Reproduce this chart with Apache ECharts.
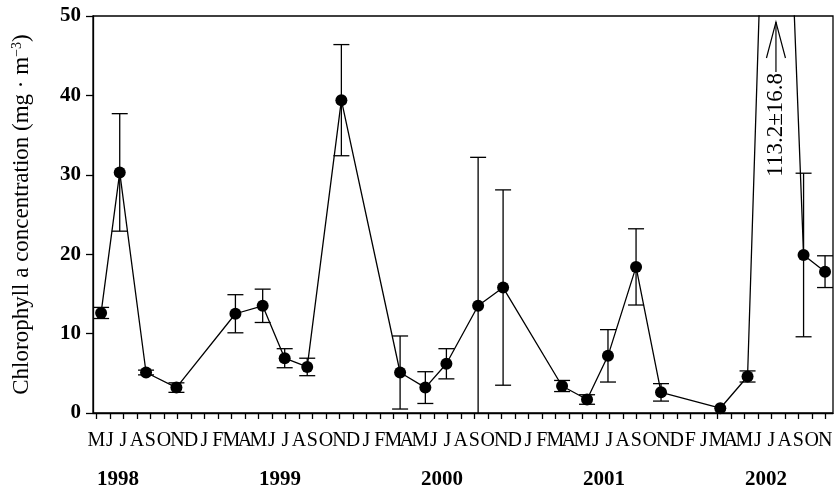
<!DOCTYPE html>
<html>
<head>
<meta charset="utf-8">
<script src="https://cdn.jsdelivr.net/npm/echarts@6/dist/echarts.min.js"></script>
<style>
  html, body { margin: 0; padding: 0; background: #fff; }
  #chart { width: 835px; height: 485px; }
</style>
</head>
<body>
<div id="chart"></div>
<script>
// Sampling time of each survey, in months counted from 1 May 1998
const sampleMonth = [0.35, 1.73, 3.68, 5.93, 10.30, 12.32, 13.95, 15.62, 18.15, 22.50, 24.37, 25.93,
                     28.28, 30.13, 34.50, 36.35, 37.90, 39.98, 41.83, 46.22, 48.24, 50.27, 52.39, 53.98];
// Mean chlorophyll a (mg·m⁻³) and its standard deviation
const chlMean = [12.6, 30.3, 5.1, 3.2, 12.5, 13.5, 6.9, 5.8, 39.4, 5.1, 3.2, 6.2,
                 13.5, 15.8, 3.4, 1.7, 7.2, 18.4, 2.6, 0.6, 4.6, 113.2, 19.9, 17.8];
const chlSD   = [0.7, 7.4, 0.3, 0.6, 2.4, 2.1, 1.2, 1.1, 7.0, 4.6, 2.0, 1.9,
                 18.7, 12.3, 0.7, 0.6, 3.3, 4.8, 1.1, 0, 0.7, 16.8, 10.3, 2.0];

// Month initials under each monthly tick (May 1998 – Nov 2002)
const monthLetters = [
  'M','J','J','A','S','O','N','D',
  'J','F','M','A','M','J','J','A','S','O','N','D',
  'J','F','M','A','M','J','J','A','S','O','N','D',
  'J','F','M','A','M','J','J','A','S','O','N','D',
  'F','J','M','A','M','J','J','A','S','O','N'
];
const monthTicks = monthLetters.map((_, i) => i);
const yearLabels = ['1998', '1999', '2000', '2001', '2002'];
const yearMonth = [1.6, 13.6, 25.6, 37.6, 49.6];
const yTicks = [0, 10, 20, 30, 40, 50];

const SERIF = '"Liberation Serif", "Times New Roman", serif';
const INK = '#000';
const X_MIN = -0.25, X_MAX = 54.57;

// index of the off-scale peak, annotated with its value
const peakIdx = chlMean.indexOf(Math.max(...chlMean));

// Month initials are split over two label-only axes (even / odd months),
// so that ECharts' end-label overlap check never drops a neighbour.
function monthLabelAxis(parity, withLine) {
  return {
    type: 'value', min: X_MIN, max: X_MAX, position: 'bottom', offset: 0,
    axisLine: { show: withLine, onZero: false, lineStyle: { color: INK, width: 1.3 } },
    splitLine: { show: false },
    axisTick: { show: withLine, inside: false, length: 6, customValues: monthTicks,
                lineStyle: { color: INK, width: 1.3 } },
    axisLabel: {
      customValues: monthTicks.filter(v => v % 2 === parity),
      margin: 18, showMinLabel: true, showMaxLabel: true, hideOverlap: false,
      formatter: v => monthLetters[Math.round(v)],
      fontFamily: SERIF, fontSize: 20, color: INK
    }
  };
}

const chart = echarts.init(document.getElementById('chart'), null, { renderer: 'canvas' });

chart.setOption({
  animation: false,
  backgroundColor: '#fff',
  grid: {
    left: 93, right: 2, top: 16, bottom: 72,
    containLabel: false, outerBoundsMode: 'none',
    show: true, borderColor: INK, borderWidth: 1.3, backgroundColor: 'transparent'
  },
  xAxis: [
    monthLabelAxis(0, true),
    monthLabelAxis(1, false),
    {
      type: 'value', min: X_MIN, max: X_MAX, position: 'bottom', offset: 0,
      axisLine: { show: false, onZero: false }, axisTick: { show: false }, splitLine: { show: false },
      axisLabel: {
        customValues: yearMonth, margin: 56,
        formatter: v => yearLabels[yearMonth.indexOf(v)],
        fontFamily: SERIF, fontSize: 21, fontWeight: 'bold', color: INK
      }
    }
  ],
  yAxis: {
    type: 'value', min: 0, max: 50, interval: 10,
    axisLine: { show: true, onZero: false, lineStyle: { color: INK, width: 1.3 } },
    splitLine: { show: false },
    axisTick: { show: true, inside: false, length: 7, customValues: yTicks,
                lineStyle: { color: INK, width: 1.3 } },
    axisLabel: { customValues: yTicks, margin: 12, fontFamily: SERIF, fontSize: 21,
                 fontWeight: 'bold', color: INK },
    name: 'Chlorophyll a concentration (mg · m{sup|−3})',
    nameLocation: 'middle', nameRotate: 90, nameGap: 60,
    nameTextStyle: {
      fontFamily: SERIF, fontSize: 23, color: INK,
      rich: { sup: { fontFamily: SERIF, fontSize: 14, color: INK, verticalAlign: 'top', padding: [0, 0, 9, 0] } }
    }
  },
  series: [
    {
      // standard-deviation bars
      type: 'custom',
      clip: true,
      z: 2,
      data: sampleMonth.map((m, i) => [m, chlMean[i] - chlSD[i], chlMean[i] + chlSD[i]]),
      renderItem(params, api) {
        const x = api.value(0), lo = api.value(1), hi = api.value(2);
        if (hi - lo <= 0) return { type: 'group', children: [] };
        const a = api.coord([x, lo]);
        const b = api.coord([x, hi]);
        const w = 8;
        const st = { stroke: INK, lineWidth: 1.3 };
        return {
          type: 'group',
          children: [
            { type: 'line', shape: { x1: a[0], y1: a[1], x2: b[0], y2: b[1] }, style: st },
            { type: 'line', shape: { x1: a[0] - w, y1: a[1], x2: a[0] + w, y2: a[1] }, style: st },
            { type: 'line', shape: { x1: b[0] - w, y1: b[1], x2: b[0] + w, y2: b[1] }, style: st }
          ]
        };
      }
    },
    {
      type: 'line',
      z: 3,
      clip: true,
      data: sampleMonth.map((m, i) => [m, chlMean[i]]),
      symbol: 'circle', symbolSize: 12,
      itemStyle: { color: INK },
      lineStyle: { color: INK, width: 1.3 }
    },
    {
      // arrow and value text for the off-scale peak
      type: 'custom',
      clip: false,
      z: 4,
      data: [[sampleMonth[peakIdx], chlMean[peakIdx], chlSD[peakIdx]]],
      renderItem(params, api) {
        const px = api.coord([api.value(0), 0])[0] + 1;
        const top = api.coord([api.value(0), 50])[1];
        const txt = api.value(1).toFixed(1) + '±' + api.value(2).toFixed(1);
        const st = { stroke: INK, lineWidth: 1.2, fill: null };
        return {
          type: 'group',
          children: [
            { type: 'polyline', shape: { points: [[px - 9.5, top + 42], [px, top + 6], [px + 9.5, top + 42]] }, style: st },
            { type: 'line', shape: { x1: px, y1: top + 6, x2: px, y2: top + 56 }, style: st },
            {
              type: 'text', x: px, y: top + 57, rotation: Math.PI / 2,
              style: { text: txt, x: 0, y: 0, align: 'right', verticalAlign: 'middle',
                       font: '23px ' + SERIF, fill: INK }
            }
          ]
        };
      }
    }
  ]
});
</script>
</body>
</html>
